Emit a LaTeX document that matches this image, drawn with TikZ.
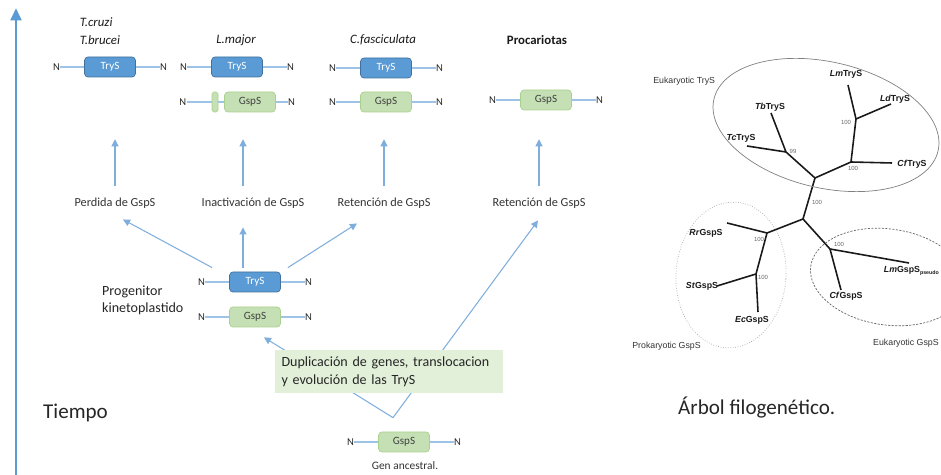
\documentclass[tikz,border=0pt]{standalone}
\usepackage{fontspec}
\setmainfont{Carlito}
\newfontfamily\treefont{Liberation Sans}
\usetikzlibrary{arrows.meta,positioning}
\definecolor{trysblue}{HTML}{5B9BD5}
\definecolor{trysborder}{HTML}{41719C}
\definecolor{gspsgreen}{HTML}{C5E0B4}
\definecolor{gspsborder}{HTML}{A9D18E}
\definecolor{linkblue}{HTML}{9DC3E6}
\definecolor{arrowblue}{HTML}{7FAEDD}
\definecolor{dupgreen}{HTML}{E2F0D9}

\begin{document}
\begin{tikzpicture}[x=0.02cm, y=-0.02cm,
  trys/.style={draw=trysborder, fill=trysblue, text=white, rounded corners=2pt, minimum width=1.02cm, minimum height=0.4cm, inner sep=0pt, font=\fontsize{6.3}{7}\selectfont},
  gsps/.style={draw=gspsborder, fill=gspsgreen, text=black!75, rounded corners=2pt, minimum width=1.02cm, minimum height=0.4cm, inner sep=0pt, font=\fontsize{6.3}{7}\selectfont},
  nlab/.style={inner sep=0pt, font=\fontsize{6}{7}\selectfont, text=black!85},
  nline/.style={draw=linkblue, line width=0.6pt},
  arr/.style={draw=arrowblue, line width=0.6pt, -{Triangle[length=4pt,width=4pt]}},
  lab/.style={font=\fontsize{7}{8}\selectfont, text=black!80},
  head/.style={font=\fontsize{7.3}{10.2}\selectfont\itshape, text=black!90},
  branch/.style={line width=0.9pt, black!90, line join=round},
  taxon/.style={font=\treefont\bfseries\fontsize{5}{6}\selectfont, text=black!90, inner sep=0.5pt},
  boot/.style={font=\treefont\fontsize{3.4}{4}\selectfont, text=black!60, inner sep=0pt},
  clade/.style={font=\treefont\fontsize{5}{6}\selectfont, text=black!80, inner sep=0pt}
]
\useasboundingbox (0,0) rectangle (941,475);

% Time axis
\coordinate (tbot) at (16,475);
\coordinate (ttop) at (16,8);
\draw[line width=1.7pt, trysblue, -{Triangle[length=7pt,width=6pt]}] (tbot) -- (ttop);
\node[font=\fontsize{12}{14}\selectfont, anchor=west, text=black!85] (tiempo) at (37,413) {Tiempo};

% Headers
\node[head, align=left] (tcb) at (100,31) {T.cruzi\\T.brucei};
\node[head] (lmaj) at (236,40) {L.major};
\node[head] (cfas) at (383,40) {C.fasciculata};
\node[head, font=\fontsize{7.3}{9}\selectfont\bfseries] (proc) at (537,40) {Procariotas};

% Genes
\foreach \g/\px/\py/\kind/\txt in {tc/110/67/trys/TryS, lmt/237/67/trys/TryS, cft/386/68/trys/TryS, cfg/386/102/gsps/GspS, prg/546/100/gsps/GspS, pgt/255/282/trys/TryS, pgg/255/317/gsps/GspS, anc/404/442/gsps/GspS}{
  \node[\kind] (\g) at (\px,\py) {\txt};
  \node[nlab, left=0.48cm of \g] (\g-l) {N};
  \node[nlab, right=0.48cm of \g] (\g-r) {N};
  \draw[nline] (\g-l) -- (\g);
  \draw[nline] (\g) -- (\g-r);
}
\node[gsps] (lmg) at (250,102) {GspS};
\node[gsps, minimum width=0.12cm, rounded corners=1pt] (lmstub) at (215,102) {};
\node[nlab, left=0.5cm of lmstub] (lmg-l) {N};
\node[nlab, right=0.24cm of lmg] (lmg-r) {N};
\draw[nline] (lmg-l) -- (lmstub);
\draw[nline] (lmstub) -- (lmg);
\draw[nline] (lmg) -- (lmg-r);

% Events
\node[lab] (perd) at (115,203) {Perdida de GspS};
\node[lab] (inac) at (253,203) {Inactivación de GspS};
\node[lab] (retc) at (384,203) {Retención de GspS};
\node[lab] (retp) at (539,203) {Retención de GspS};
\foreach \l/\dx in {perd/0, inac/-10, retc/0, retp/0}
  \draw[arr] ([xshift=\dx*0.02cm, yshift=3pt]\l.north) -- ++(0,-47);

\node[font=\fontsize{8}{9.6}\selectfont, align=left, anchor=west, text=black!85] (prog) at (96,300) {Progenitor\\kinetoplastido};
\draw[arr] ([shift={(-17,-4)}]pgt.north west) -- ([shift={(8,5)}]perd.south);
\draw[arr] ([shift={(-12,-4)}]pgt.north) -- ([shift={(-10,13)}]inac.south);
\draw[arr] ([shift={(7,-4)}]pgt.north east) -- ([shift={(-27,9)}]retc.south);

\coordinate (apex) at ([shift={(-11,-14)}]anc.north);
\draw[arr] (apex) -- ([shift={(9,10)}]pgg.south);
\draw[arr] (apex) -- ([shift={(-1,6)}]retp.south);
\node[fill=dupgreen, minimum height=0.86cm, inner xsep=0.14cm, text width=4.3cm, align=left, font=\fontsize{8}{10.3}\selectfont, text=black!85] (dup) at (389,372) {Duplicación de genes, translocacion\\y evolución de las TryS};
\node[lab, font=\fontsize{6.5}{8}\selectfont] (ganc) at (405,466) {Gen ancestral.};

% Tree
\coordinate (A) at (815,178);
\coordinate (C) at (786,152);
\coordinate (Tb) at (771,113);
\coordinate (Tc) at (747,146);
\coordinate (D) at (851,162);
\coordinate (Cf) at (892,163);
\coordinate (E) at (856,119);
\coordinate (Lm) at (848,85);
\coordinate (Ld) at (891,104);
\coordinate (B) at (803,219);
\coordinate (F) at (767,233);
\coordinate (Rr) at (727,223);
\coordinate (G) at (756,274);
\coordinate (St) at (717,286);
\coordinate (Ec) at (758,312);
\coordinate (H) at (830,249);
\coordinate (LmG) at (909,263);
\coordinate (CfG) at (841,290);
\draw[branch] (Tb) -- (C) -- (Tc);
\draw[branch] (C) -- (A) -- (B);
\draw[branch] (A) -- (D) -- (Cf);
\draw[branch] (D) -- (E) -- (Lm);
\draw[branch] (E) -- (Ld);
\draw[branch] (B) -- (F) -- (Rr);
\draw[branch] (F) -- (G) -- (St);
\draw[branch] (G) -- (Ec);
\draw[branch] (B) -- (H) -- (LmG);
\draw[branch] (H) -- (CfG);

\draw[gray, line width=0.4pt, rotate around={-13:(826,125)}] (826,125) ellipse [x radius=115, y radius=63];
\draw[gray!70, line width=0.4pt, densely dotted, rotate around={-4:(731,275)}] (731,275) ellipse [x radius=55, y radius=73];
\draw[gray!80!black, line width=0.4pt, dash pattern=on 1.2pt off 0.8pt, rotate around={-8:(888,277)}] (888,277) ellipse [x radius=78, y radius=48];

\node[taxon] (tbt) at (770,107) {\textit{Tb}TryS};
\node[taxon] (tct) at (741,138) {\textit{Tc}TryS};
\node[taxon] (lmt2) at (846,74) {\textit{Lm}TryS};
\node[taxon] (ldt) at (895,99) {\textit{Ld}TryS};
\node[taxon] (cft2) at (912,164) {\textit{Cf}TryS};
\node[taxon] (rrg) at (706,233) {\textit{Rr}GspS};
\node[taxon] (stg) at (702,286) {\textit{St}GspS};
\node[taxon] (ecg) at (752,320) {\textit{Ec}GspS};
\node[taxon] (cfg2) at (846,296) {\textit{Cf}GspS};
\node[taxon, anchor=east] (lmg2) at (940,271) {\textit{Lm}GspS\raisebox{-1.2pt}{\fontsize{3}{3}\selectfont pseudo}};
\node[boot] (b1) at (793,151) {99};
\node[boot] (b2) at (846,122) {100};
\node[boot] (b3) at (853,168) {100};
\node[boot] (b4) at (817,202) {100};
\node[boot] (b5) at (759,239) {100};
\node[boot] (b6) at (763,277) {100};
\node[boot] (b7) at (839,244) {100};
\node[clade, anchor=west] (ekt) at (653,81) {Eukaryotic TryS};
\node[clade, anchor=west] (pkg) at (632,346) {Prokaryotic GspS};
\node[clade, anchor=east] (ekg) at (939,343) {Eukaryotic GspS};
\node[font=\fontsize{12}{14}\selectfont, anchor=west, text=black!85] (arbol) at (672,408) {Árbol filogenético.};
\end{tikzpicture}
\end{document}
